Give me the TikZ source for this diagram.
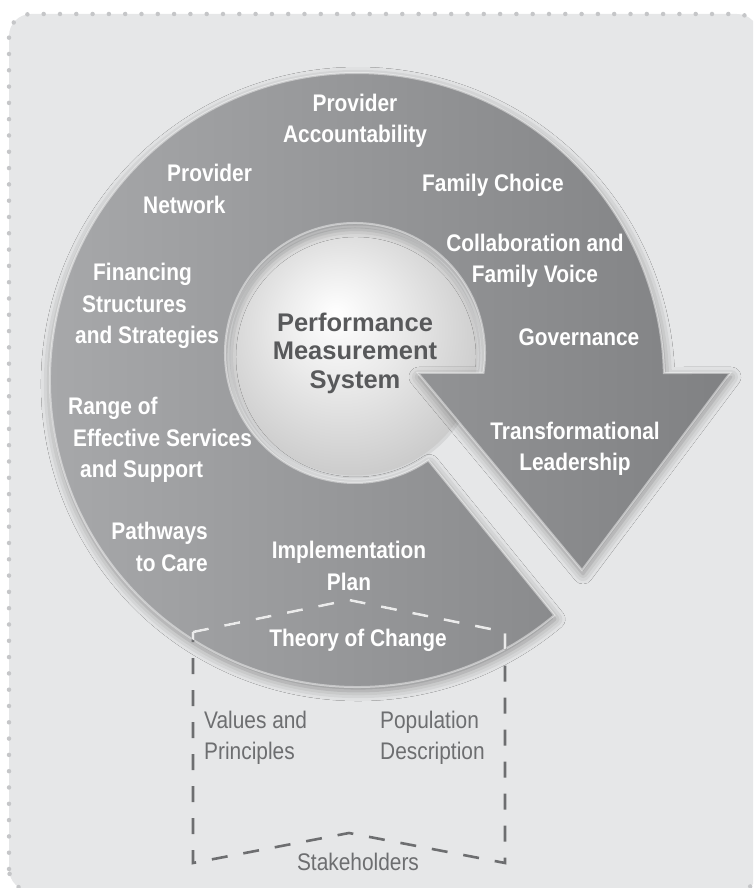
\documentclass[tikz,border=0pt]{standalone}
\usepackage{fontspec}
\setmainfont{Liberation Sans}
\newfontfamily\narrowsans{Liberation Sans}[FakeStretch=0.87]
\usetikzlibrary{shadows.blur}

\definecolor{panelgray}{HTML}{E6E7E8}
\definecolor{dotgray}{HTML}{C5C6C8}
\definecolor{ringlight}{HTML}{A9AAAC}
\definecolor{ringdark}{HTML}{808183}
\definecolor{centertext}{HTML}{58595B}
\definecolor{basetext}{HTML}{6D6E70}
\definecolor{rimgray}{HTML}{D6D7D8}

\pgfdeclareradialshading{medallionshade}{\pgfpoint{-4bp}{8bp}}{%
  color(0bp)=(white); color(12bp)=(white!92!black);
  color(36bp)=(white!74!black); color(50bp)=(white!66!black)}

% ring + arrow head, one outline
\newcommand{\ringpath}{(554.3,272.8)
  arc[start angle=-50,end angle=-358.69,radius=307]
  -- (730,515) -- (582,318) -- (418,515) -- (483.45,515)
  arc[start angle=-8.85,end angle=304.3,radius=130] -- cycle}

\tikzset{
  cycle/.style={
    x=1pt, y=1pt,
    ringlabel/.style={text=white, inner sep=0pt, align=center,
      font=\narrowsans\bfseries\fontsize{24}{31.5}\selectfont},
    baselabel/.style={text=basetext, inner sep=0pt, align=left,
      font=\narrowsans\fontsize{24}{31}\selectfont},
    medallion/.style={circle, minimum size=248pt, inner sep=0pt,
      shading=medallionshade, draw=rimgray, line width=3pt,
      text=centertext, align=center,
      font=\bfseries\fontsize{25.5}{28.5}\selectfont},
    ringshape/.style={left color=ringlight, right color=ringdark,
      draw=white, draw opacity=0.45, line width=2pt,
      blur shadow={shadow xshift=1pt, shadow yshift=-4pt,
        shadow blur radius=10pt, shadow opacity=40}},
    dashline/.style={line width=2.6pt, dash pattern=on 16pt off 16pt},
    dotborder/.style={dotgray, line width=4.5pt, line cap=round,
      dash pattern=on 0pt off 16.3pt, rounded corners=22pt}
  }
}

\begin{document}
\begin{tikzpicture}[cycle]
  \useasboundingbox (0,0) rectangle (753,888);
  \clip (0,0) rectangle (753,888);

  % panel
  \fill[panelgray, rounded corners=22pt] (9,-3) rectangle (759,874);
  \draw[dotborder] (9,-3) rectangle (759,874);

  % centre
  \node[medallion] (pms) at (355,535) {Performance\\Measurement\\System};

  % ring
  \path[ringshape] \ringpath;

  % theory of change outline
  \coordinate (tl) at (193,256);
  \coordinate (tp) at (349,288);
  \coordinate (tr) at (505,256);
  \coordinate (br) at (505,25);
  \coordinate (bp) at (349,55);
  \coordinate (bl) at (193,25);
  \draw[dashline, basetext] (tl) -- (tp) -- (tr) -- (br) -- (bp) -- (bl) -- cycle;
  \begin{scope}
    \clip \ringpath;
    \draw[dashline, white!92!black] (tl) -- (tp) -- (tr) -- (br) -- (bp) -- (bl) -- cycle;
  \end{scope}

  % ring labels
  \node[ringlabel] (provacc) at (355,767) {Provider\\Accountability};
  \node[ringlabel] (famchoice) at (493,703) {Family Choice};
  \node[ringlabel] (collab) at (535,627) {Collaboration and\\Family Voice};
  \node[ringlabel] (gov) at (579,551) {Governance};
  \node[ringlabel] (transf) at (575,439) {Transformational\\Leadership};
  \node[ringlabel, anchor=west, align=left] (provnet) at (143,699)
    {\hspace*{24pt}Provider\\Network};
  \node[ringlabel, anchor=west, align=left] (financing) at (75,582)
    {\hspace*{18pt}Financing\\\hspace*{7pt}Structures\\and Strategies};
  \node[ringlabel, anchor=west, align=left] (services) at (68,448)
    {Range of\\\hspace*{5pt}Effective Services\\\hspace*{12pt}and Support};
  \node[ringlabel, anchor=east, align=right] (pathways) at (208,341)
    {Pathways\\to Care};
  \node[ringlabel] (implan) at (349,322) {Implementation\\Plan};
  \node[ringlabel] (theory) at (358,248) {Theory of Change};

  % below the ring
  \node[baselabel, anchor=west] (values) at (204,150) {Values and\\Principles};
  \node[baselabel, anchor=west] (population) at (380,150) {Population\\Description};
  \node[baselabel] (stake) at (358,26) {Stakeholders};
\end{tikzpicture}
\end{document}
